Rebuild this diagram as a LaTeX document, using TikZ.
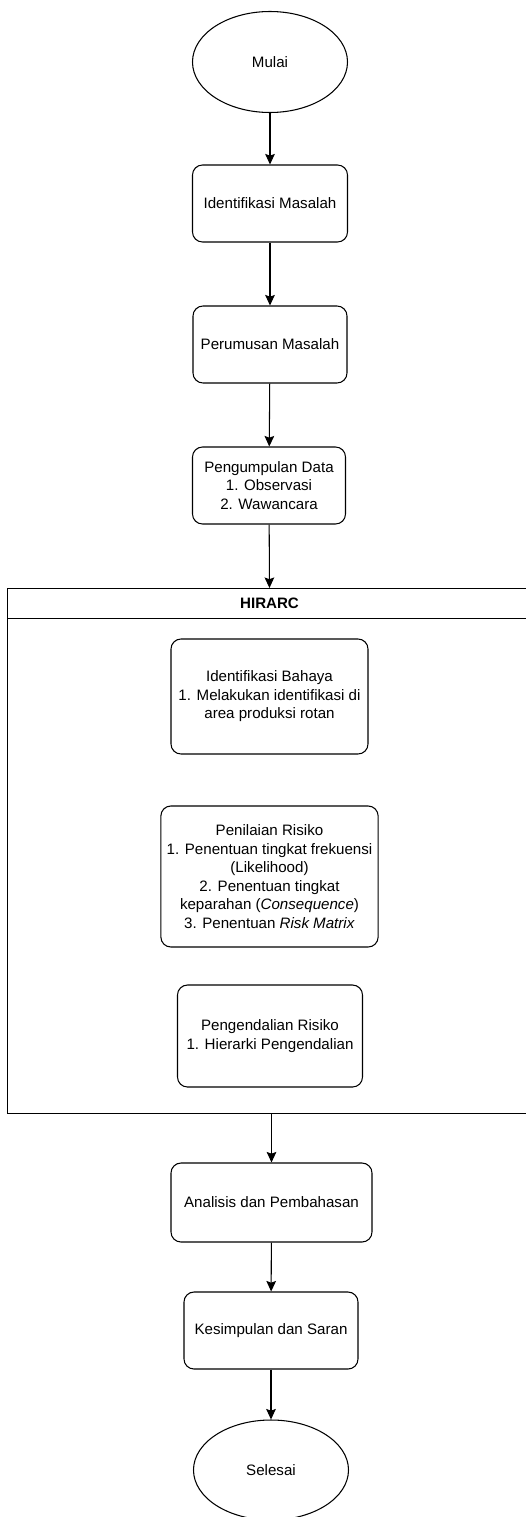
\documentclass[tikz,border=0pt]{standalone}
\usepackage{fontspec}
\setmainfont{Liberation Sans}
\usetikzlibrary{arrows.meta,positioning,shapes.geometric}

\begin{document}
\begin{tikzpicture}[
    termnode/.style={draw, ellipse, line width=0.6pt, font=\fontsize{8.6}{10.5}\selectfont},
    procbox/.style={draw, rounded corners=0.2cm, line width=0.6pt, align=center, font=\fontsize{8.6}{10.5}\selectfont},
    framebox/.style={draw, rectangle, line width=0.6pt, inner sep=0pt},
    link/.style={-{Stealth[length=6pt, width=5.5pt, inset=1pt]}, line width=0.6pt}
]

\useasboundingbox (0,0) rectangle (10.52,-30.34);

\node[termnode, minimum width=3.10cm, minimum height=2.02cm] (mulai) at (5.40,-1.24) {Mulai};
\node[procbox, minimum width=3.10cm, minimum height=1.54cm] (idmasalah) at (5.40,-4.07) {Identifikasi Masalah};
\node[procbox, minimum width=3.08cm, minimum height=1.54cm] (rumus) at (5.40,-6.89) {Perumusan Masalah};
\node[procbox, minimum width=3.06cm, minimum height=1.54cm] (kumpul) at (5.38,-9.71)
  {Pengumpulan Data\\1. Observasi\\2. Wawancara};

% HIRARC frame
\node[framebox, anchor=north west, minimum width=10.48cm, minimum height=10.50cm] (hirarc) at (0.14,-11.76) {};
\node[framebox, anchor=north west, minimum width=10.48cm, minimum height=0.60cm,
  font=\fontsize{8.6}{10.5}\selectfont\bfseries] (hirarchead) at (0.14,-11.76) {HIRARC};

\node[procbox, minimum width=3.94cm, minimum height=2.30cm] (bahaya) at (5.39,-13.93)
  {Identifikasi Bahaya\\1. Melakukan identifikasi di\\area produksi rotan};
\node[procbox, minimum width=4.22cm, minimum height=2.82cm] (nilai) at (5.39,-17.53)
  {Penilaian Risiko\\1. Penentuan tingkat frekuensi\\(Likelihood)\\2. Penentuan tingkat\\keparahan (\textit{Consequence})\\3. Penentuan \textit{Risk Matrix}};
\node[procbox, minimum width=3.70cm, minimum height=2.04cm] (kendali) at (5.40,-20.72)
  {Pengendalian Risiko\\1. Hierarki Pengendalian};

\node[procbox, minimum width=4.02cm, minimum height=1.58cm] (analisis) at (5.43,-24.05) {Analisis dan Pembahasan};
\node[procbox, minimum width=3.48cm, minimum height=1.54cm] (simpul) at (5.42,-26.61) {Kesimpulan dan Saran};
\node[termnode, minimum width=3.10cm, minimum height=2.00cm] (selesai) at (5.42,-29.40) {Selesai};

\draw[link] (mulai) -- (idmasalah);
\draw[link] (idmasalah) -- (rumus);
\draw[link] (rumus) -- (kumpul);
\draw[link] (kumpul) -- (hirarchead);
\draw[link] (hirarc.south -| analisis) -- (analisis);
\draw[link] (analisis) -- (simpul);
\draw[link] (simpul) -- (selesai);

\end{tikzpicture}
\end{document}
